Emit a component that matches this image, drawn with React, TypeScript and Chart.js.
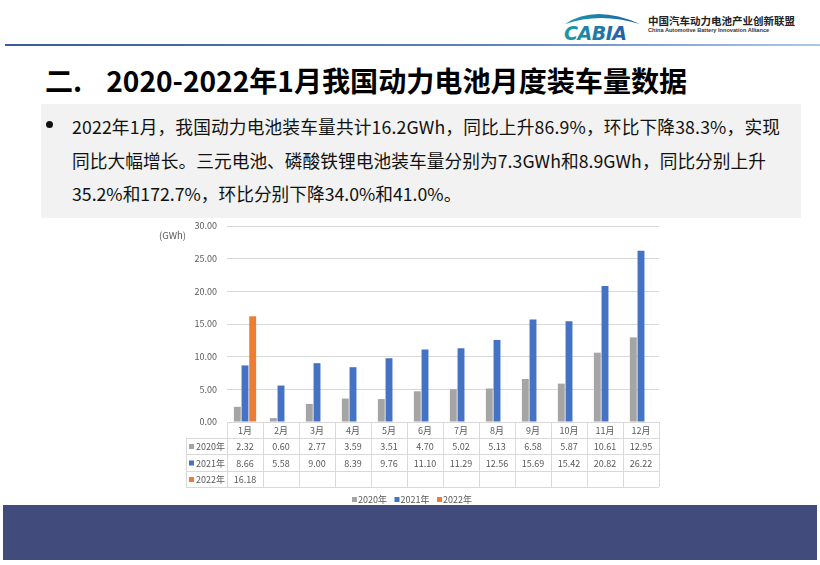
import React, { useEffect, useRef } from "react";
import { Chart, registerables } from "chart.js";

Chart.register(...registerables);

const months = ["1月", "2月", "3月", "4月", "5月", "6月", "7月", "8月", "9月", "10月", "11月", "12月"];
const seriesNames = ["2020年", "2021年", "2022年"];
const values2020 = [2.32, 0.6, 2.77, 3.59, 3.51, 4.7, 5.02, 5.13, 6.58, 5.87, 10.61, 12.95];
const values2021 = [8.66, 5.58, 9.0, 8.39, 9.76, 11.1, 11.29, 12.56, 15.69, 15.42, 20.82, 26.22];
const values2022: (number | null)[] = [16.18, null, null, null, null, null, null, null, null, null, null, null];
const seriesColors = ["#A5A5A5", "#4472C4", "#ED7D31"];
const yMin = 0;
const yMax = 30;
const yStep = 5;
const unitLabel = "(GWh)";

const FONT = '"Noto Sans CJK SC", "Noto Sans", sans-serif';
const TEXT_GRAY = "#595959";
const LINE_GRAY = "#D9D9D9";

const tablePlugin = {
  id: "dataTable",
  afterDraw(chart: any) {
    const ctx = chart.ctx;
    const area = chart.chartArea;
    const xs = chart.scales.x;
    const n = months.length;
    const cw = (area.right - area.left) / n;
    const rowH = [16, 16, 17, 16];
    const rowsY: number[] = [area.bottom];
    for (const h of rowH) rowsY.push(rowsY[rowsY.length - 1] + h);
    const labelLeft = 186;
    ctx.save();
    ctx.strokeStyle = LINE_GRAY;
    ctx.lineWidth = 1;
    ctx.beginPath();
    ctx.moveTo(area.left, Math.round(rowsY[0]) + 0.5);
    ctx.lineTo(area.right, Math.round(rowsY[0]) + 0.5);
    for (let i = 1; i < rowsY.length; i++) {
      ctx.moveTo(labelLeft, Math.round(rowsY[i]) + 0.5);
      ctx.lineTo(area.right, Math.round(rowsY[i]) + 0.5);
    }
    ctx.moveTo(labelLeft + 0.5, rowsY[1]);
    ctx.lineTo(labelLeft + 0.5, rowsY[4]);
    for (let i = 0; i <= n; i++) {
      const x = Math.round(area.left + i * cw) + 0.5;
      ctx.moveTo(x, rowsY[0]);
      ctx.lineTo(x, rowsY[4]);
    }
    ctx.stroke();

    ctx.fillStyle = TEXT_GRAY;
    ctx.font = `9px ${FONT}`;
    ctx.textAlign = "center";
    ctx.textBaseline = "middle";
    const rows = [values2020, values2021, values2022];
    for (let i = 0; i < n; i++) {
      const cx = xs.getPixelForValue(i);
      ctx.fillText(months[i], cx, (rowsY[0] + rowsY[1]) / 2 + 1);
      rows.forEach((r, k) => {
        const v = r[i];
        if (v !== null && v !== undefined) {
          ctx.fillText(v.toFixed(2), cx, (rowsY[k + 1] + rowsY[k + 2]) / 2 + 1);
        }
      });
    }
    ctx.textAlign = "left";
    seriesNames.forEach((name, k) => {
      const cy = (rowsY[k + 1] + rowsY[k + 2]) / 2 + 1;
      ctx.fillStyle = seriesColors[k];
      ctx.fillRect(189, cy - 3, 5, 5);
      ctx.fillStyle = TEXT_GRAY;
      ctx.fillText(name, 196, cy);
    });

    ctx.font = `9.5px ${FONT}`;
    ctx.fillText(unitLabel, 159, area.top + 9);

    ctx.font = `9px ${FONT}`;
    const legendY = 500;
    let lx = 352;
    seriesNames.forEach((name, k) => {
      ctx.fillStyle = seriesColors[k];
      ctx.fillRect(lx, legendY - 3, 5, 5);
      ctx.fillStyle = TEXT_GRAY;
      ctx.fillText(name, lx + 6, legendY);
      lx += 42.5;
    });
    ctx.restore();
  },
};

export default function App() {
  const ref = useRef<HTMLCanvasElement | null>(null);
  useEffect(() => {
    if (!ref.current) return;
    const chart = new Chart(ref.current, {
      type: "bar",
      data: {
        labels: months,
        datasets: [values2020, values2021, values2022].map((d, k) => ({
          label: seriesNames[k],
          data: d,
          backgroundColor: seriesColors[k],
          barPercentage: 0.9,
          categoryPercentage: 0.64,
        })),
      },
      options: {
        animation: false,
        responsive: false,
        maintainAspectRatio: false,
        layout: { padding: { left: 187, right: 161, top: 226, bottom: 143 } },
        plugins: { legend: { display: false }, tooltip: { enabled: false } },
        scales: {
          x: { display: false },
          y: {
            min: yMin,
            max: yMax,
            ticks: {
              stepSize: yStep,
              callback: (v: any) => Number(v).toFixed(2),
              color: TEXT_GRAY,
              font: { size: 9, family: FONT },
              padding: 10,
            },
            grid: { color: LINE_GRAY, drawTicks: false },
            border: { display: false },
            afterFit: (s: any) => {
              s.width = 40;
            },
          },
        },
      },
      plugins: [tablePlugin],
    } as any);
    return () => chart.destroy();
  }, []);

  const lineStyle: React.CSSProperties = {
    position: "absolute",
    left: 72,
    whiteSpace: "nowrap",
    fontSize: 17.7,
    color: "#111",
    fontFamily: FONT,
    lineHeight: "20px",
  };

  return (
    <div style={{ position: "absolute", left: 0, top: 0, width: 820, height: 565, background: "#fff", overflow: "hidden", fontFamily: FONT }}>
      <svg style={{ position: "absolute", left: 560, top: 6 }} width={90} height={40}>
        <defs>
          <linearGradient id="lg" x1="0" x2="1" y1="0" y2="0">
            <stop offset="0" stopColor="#1B9AA8" />
            <stop offset="1" stopColor="#1F5FA8" />
          </linearGradient>
        </defs>
        <path d="M5 18 Q 35 -2 80 18 Q 40 6 5 18 Z" fill="url(#lg)" />
        <text x="4" y="34" fontSize="19" fontStyle="italic" fontWeight="bold" fill="url(#lg)" fontFamily="DejaVu Sans" letterSpacing="-0.5">CABIA</text>
      </svg>
      <div style={{ position: "absolute", left: 648, top: 13, fontSize: 10.5, fontWeight: 700, color: "#222", whiteSpace: "nowrap" }}>中国汽车动力电池产业创新联盟</div>
      <div style={{ position: "absolute", left: 648, top: 27, fontSize: 5.6, fontWeight: 700, color: "#333", whiteSpace: "nowrap", fontFamily: "Liberation Sans" }}>China Automotive Battery Innovation Alliance</div>
      <div style={{ position: "absolute", left: 5, top: 44, width: 815, height: 2, background: "linear-gradient(to right, #3A5A9C, #5F82C0 60%, #AFC7E6)" }} />
      <div style={{ position: "absolute", left: 45, top: 61, fontSize: 28.1, fontWeight: 700, color: "#000", whiteSpace: "nowrap", lineHeight: "38px" }}>
        二.<span style={{ display: "inline-block", width: 24 }} />2020-2022年1月我国动力电池月度装车量数据
      </div>
      <div style={{ position: "absolute", left: 41, top: 104, width: 760, height: 114, background: "#F2F2F2" }} />
      <div style={{ position: "absolute", left: 46, top: 121, width: 7, height: 7, borderRadius: 4, background: "#111" }} />
      <div style={{ ...lineStyle, top: 116, letterSpacing: 0.15 }}>2022年1月，我国动力电池装车量共计16.2GWh，同比上升86.9%，环比下降38.3%，实现</div>
      <div style={{ ...lineStyle, top: 150, letterSpacing: 0.05 }}>同比大幅增长。三元电池、磷酸铁锂电池装车量分别为7.3GWh和8.9GWh，同比分别上升</div>
      <div style={{ ...lineStyle, top: 183 }}>35.2%和172.7%，环比分别下降34.0%和41.0%。</div>
      <div style={{ position: "absolute", left: 3, top: 505, width: 814, height: 55, background: "#414B7C" }} />
      <canvas ref={ref} width={820} height={565} style={{ position: "absolute", left: 0, top: 0, width: 820, height: 565 }} />
    </div>
  );
}
